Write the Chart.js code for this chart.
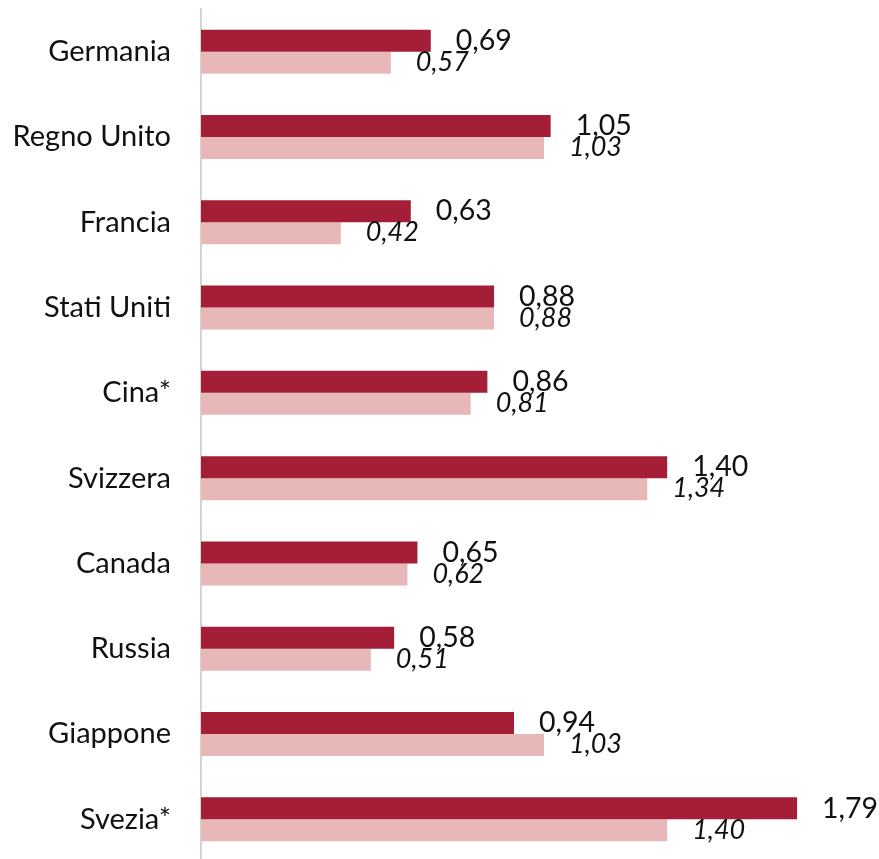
<!DOCTYPE html>
<html>
<head>
<meta charset="utf-8">
<script src="https://cdn.jsdelivr.net/npm/chart.js@4"></script>
<style>
  html, body { margin: 0; padding: 0; background: #fff; overflow: hidden; }
  #wrap { width: 879px; height: 862px; }
</style>
</head>
<body>
<div id="wrap"><canvas id="chart"></canvas></div>
<script>
"use strict";

var countries = ['Germania', 'Regno Unito', 'Francia', 'Stati Uniti', 'Cina*', 'Svizzera', 'Canada', 'Russia', 'Giappone', 'Svezia*'];
var seriesA = [0.69, 1.05, 0.63, 0.88, 0.86, 1.40, 0.65, 0.58, 0.94, 1.79];
var seriesB = [0.57, 1.03, 0.42, 0.88, 0.81, 1.34, 0.62, 0.51, 1.03, 1.40];

function fmt(v) {
    return v.toFixed(2).replace('.', ',');
}

var valueLabels = {
    id: 'valueLabels',
    afterDatasetsDraw: function (chart) {
        var ctx = chart.ctx;
        ctx.save();
        ctx.fillStyle = '#111';
        ctx.textAlign = 'left';
        ctx.textBaseline = 'middle';
        chart.data.datasets.forEach(function (ds, i) {
            var meta = chart.getDatasetMeta(i);
            ctx.font = i === 0 ? '28.5px Lato' : 'italic 27px Lato';
            meta.data.forEach(function (bar, j) {
                ctx.fillText(fmt(ds.data[j]), bar.x + 25, bar.y + (i === 0 ? 0 : -0.5));
            });
        });
        ctx.restore();
    }
};

new Chart(document.getElementById('chart'), {
    type: 'bar',
    data: {
        labels: countries,
        datasets: [{
            data: seriesA,
            backgroundColor: '#A31E36',
            categoryPercentage: 0.516,
            barPercentage: 1
        }, {
            data: seriesB,
            backgroundColor: '#E8B8B9',
            categoryPercentage: 0.516,
            barPercentage: 1
        }]
    },
    options: {
        indexAxis: 'y',
        responsive: true,
        maintainAspectRatio: false,
        animation: false,
        layout: { padding: { top: 9, right: 12, left: 0, bottom: 0 } },
        plugins: {
            legend: { display: false },
            tooltip: { enabled: false }
        },
        scales: {
            x: {
                display: false,
                min: 0,
                max: 2
            },
            y: {
                afterFit: function (scale) {
                    scale.width = 201;
                    scale.paddingTop = 0;
                    scale.paddingBottom = 0;
                },
                grid: { display: false },
                border: { display: true, color: '#d4d4d4', width: 2 },
                ticks: {
                    padding: 22,
                    color: '#111',
                    font: { family: 'Lato', size: 29 }
                }
            }
        }
    },
    plugins: [valueLabels]
});
</script>
</body>
</html>
